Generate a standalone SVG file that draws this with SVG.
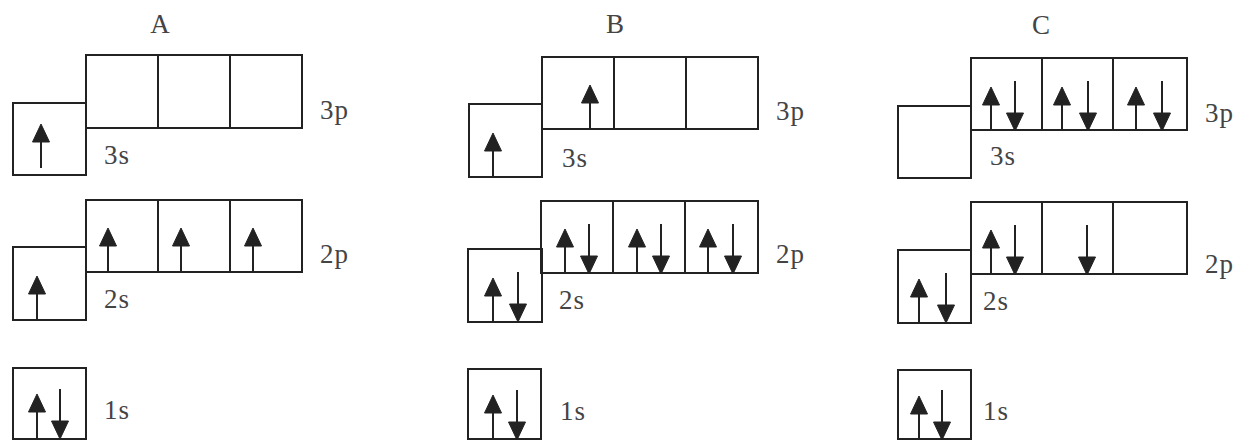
<svg xmlns="http://www.w3.org/2000/svg" xmlns:xlink="http://www.w3.org/1999/xlink" width="1239" height="440" viewBox="0 0 1239 440">
<style>
.bx{fill:none;stroke:#222;stroke-width:2}
.dv{stroke:#222;stroke-width:2}
.sh{stroke:#222;stroke-width:2}
.hd{fill:#222;stroke:#222;stroke-width:1}
.lb{font-family:"Liberation Serif",serif;font-size:27px;fill:#444;letter-spacing:1px}
.tt{font-family:"Liberation Serif",serif;font-size:27px;fill:#444;text-anchor:middle}
</style>
<defs>
<g id="up"><line class="sh" x1="0" y1="16" x2="0" y2="44"/><path class="hd" d="M0,0 L8.5,18 L-8.5,18Z"/></g>
<g id="dn"><line class="sh" x1="0" y1="-50" x2="0" y2="-16"/><path class="hd" d="M0,0 L8.5,-18 L-8.5,-18Z"/></g>
</defs>
<rect width="1239" height="440" fill="#fff"/>

<g id="panelA">
<text class="tt" x="160" y="33">A</text>
<g id="A-3s"><rect class="bx" x="13" y="103" width="73" height="72"/><use href="#up" x="41" y="124"/><text class="lb" x="104" y="164">3s</text></g>
<g id="A-3p"><rect class="bx" x="86" y="55" width="216" height="73"/><line class="dv" x1="158" y1="55" x2="158" y2="128"/><line class="dv" x1="230" y1="55" x2="230" y2="128"/><text class="lb" x="320" y="119">3p</text></g>
<g id="A-2s"><rect class="bx" x="13" y="247" width="73" height="73"/><use href="#up" x="37" y="276"/><text class="lb" x="104" y="308">2s</text></g>
<g id="A-2p"><rect class="bx" x="86" y="200" width="216" height="72"/><line class="dv" x1="158" y1="200" x2="158" y2="272"/><line class="dv" x1="230" y1="200" x2="230" y2="272"/><use href="#up" x="108" y="228"/><use href="#up" x="181" y="228"/><use href="#up" x="253" y="228"/><text class="lb" x="320" y="263">2p</text></g>
<g id="A-1s"><rect class="bx" x="13" y="368" width="73" height="71"/><use href="#up" x="37" y="394"/><use href="#dn" x="60" y="439"/><text class="lb" x="104" y="419">1s</text></g>
</g>

<g id="panelB">
<text class="tt" x="615" y="33">B</text>
<g id="B-3s"><rect class="bx" x="469" y="104" width="73" height="73"/><use href="#up" x="493" y="133"/><text class="lb" x="562" y="167">3s</text></g>
<g id="B-3p"><rect class="bx" x="542" y="57" width="216" height="72"/><line class="dv" x1="614" y1="57" x2="614" y2="129"/><line class="dv" x1="686" y1="57" x2="686" y2="129"/><use href="#up" x="590" y="85"/><text class="lb" x="776" y="120">3p</text></g>
<g id="B-2s"><rect class="bx" x="468" y="249" width="74" height="73"/><use href="#up" x="493" y="278"/><use href="#dn" x="518" y="322"/><text class="lb" x="559" y="309">2s</text></g>
<g id="B-2p"><rect class="bx" x="541" y="201" width="217" height="72"/><line class="dv" x1="613" y1="201" x2="613" y2="273"/><line class="dv" x1="685" y1="201" x2="685" y2="273"/><use href="#up" x="565" y="229"/><use href="#dn" x="589" y="274"/><use href="#up" x="637" y="229"/><use href="#dn" x="661" y="274"/><use href="#up" x="708" y="229"/><use href="#dn" x="733" y="274"/><text class="lb" x="776" y="263">2p</text></g>
<g id="B-1s"><rect class="bx" x="468" y="369" width="73" height="70"/><use href="#up" x="493" y="395"/><use href="#dn" x="517" y="440"/><text class="lb" x="560" y="420">1s</text></g>
</g>

<g id="panelC">
<text class="tt" x="1041" y="34">C</text>
<g id="C-3s"><rect class="bx" x="898" y="106" width="73" height="72"/><text class="lb" x="990" y="165">3s</text></g>
<g id="C-3p"><rect class="bx" x="971" y="58" width="216" height="72"/><line class="dv" x1="1042" y1="58" x2="1042" y2="130"/><line class="dv" x1="1113" y1="58" x2="1113" y2="130"/><use href="#up" x="991" y="87"/><use href="#dn" x="1015" y="131"/><use href="#up" x="1062" y="87"/><use href="#dn" x="1088" y="131"/><use href="#up" x="1136" y="87"/><use href="#dn" x="1162" y="131"/><text class="lb" x="1205" y="122">3p</text></g>
<g id="C-2s"><rect class="bx" x="898" y="250" width="73" height="73"/><use href="#up" x="919" y="279"/><use href="#dn" x="946" y="323"/><text class="lb" x="983" y="310">2s</text></g>
<g id="C-2p"><rect class="bx" x="971" y="202" width="216" height="72"/><line class="dv" x1="1042" y1="202" x2="1042" y2="274"/><line class="dv" x1="1113" y1="202" x2="1113" y2="274"/><use href="#up" x="991" y="230"/><use href="#dn" x="1015" y="275"/><use href="#dn" x="1087" y="275"/><text class="lb" x="1205" y="273">2p</text></g>
<g id="C-1s"><rect class="bx" x="898" y="370" width="73" height="69"/><use href="#up" x="919" y="396"/><use href="#dn" x="942" y="440"/><text class="lb" x="983" y="420">1s</text></g>
</g>
</svg>
